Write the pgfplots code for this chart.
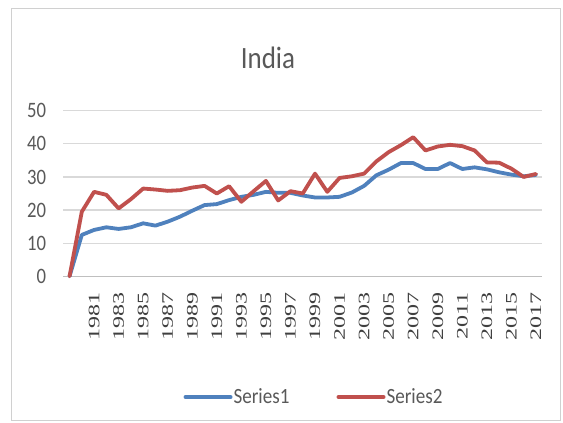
\documentclass[border=0pt]{standalone}
\usepackage{pgfplots}
\pgfplotsset{compat=1.18}
\usepackage{fontspec}
\setmainfont{Carlito}
\newfontfamily\titlefont[FakeStretch=0.87]{Carlito}
\newfontfamily\ytickfont[FakeStretch=0.85]{Carlito}
\newfontfamily\legfont[FakeStretch=0.88]{Carlito}
\newfontfamily\xtickfont[FakeStretch=1.5]{Liberation Serif}
\definecolor{txtgray}{HTML}{595959}
\definecolor{xtxtgray}{HTML}{404040}
\definecolor{gridgray}{HTML}{D9D9D9}
\definecolor{framegray}{HTML}{D0D0D0}
\definecolor{axisgray}{HTML}{BFBFBF}
\definecolor{serA}{HTML}{4F81BD}
\definecolor{serB}{HTML}{C0504D}

\begin{document}
\begin{tikzpicture}[x=1pt,y=1pt]
\useasboundingbox (0,0) rectangle (563,-423);
\fill[white] (0,0) rectangle (563,-423);
\draw[framegray, line width=1pt] (11,-8) rectangle (560,-420.5);
\node[txtgray, font=\titlefont\fontsize{31}{33}\selectfont] at (268,-58) {India};
\begin{axis}[
  at={(63.4pt,-276.3pt)}, anchor=south west,
  scale only axis, width=478.7pt, height=165.6pt,
  xmin=1978.5, xmax=2017.5, ymin=0, ymax=50,
  xtick={1981,1983,...,2017}, ytick={0,10,...,50},
  /pgf/number format/.cd, 1000 sep={}, assume math mode=true, /pgfplots/.cd,
  axis x line*=bottom, axis y line*=left,
  x axis line style={draw=axisgray, line width=1pt, -},
  y axis line style={draw=none},
  major tick length=0pt,
  ymajorgrids, grid style={gridgray, line width=1.2pt},
  xticklabel style={rotate=90, anchor=east, inner sep=0pt, text=xtxtgray,
    font=\xtickfont\fontsize{16}{18}\selectfont},
  yticklabel style={anchor=east, inner sep=0pt, text=txtgray,
    font=\ytickfont\fontsize{22}{24}\selectfont},
  xticklabel shift=15.5pt, yticklabel shift=17pt,
  clip=false,
  legend columns=2,
  legend style={at={(0.5225,-0.729)}, anchor=center, draw=none, fill=none,
    font=\legfont\fontsize{21.7}{23}\selectfont, text=txtgray,
    nodes={inner sep=1pt},
    /tikz/every even column/.append style={column sep=46pt}},
  legend image code/.code={\draw[#1, line width=4pt, line cap=round] (0pt,0pt) -- (45pt,0pt);},
  every axis plot/.append style={line width=3.8pt, line join=round, line cap=round, mark=none},
]
\addplot[serA] coordinates {
(1979,0) (1980,12.5) (1981,14.0) (1982,14.8) (1983,14.3) (1984,14.8)
(1985,16.0) (1986,15.3) (1987,16.5) (1988,18.0) (1989,19.8) (1990,21.5)
(1991,21.8) (1992,23.0) (1993,24.0) (1994,24.6) (1995,25.5) (1996,25.2)
(1997,25.2) (1998,24.4) (1999,23.8) (2000,23.8) (2001,24.0) (2002,25.3)
(2003,27.3) (2004,30.5) (2005,32.2) (2006,34.2) (2007,34.2) (2008,32.4)
(2009,32.4) (2010,34.2) (2011,32.4) (2012,32.9) (2013,32.3) (2014,31.4)
(2015,30.7) (2016,30.2) (2017,30.6)
};
\addlegendentry{Series1}
\addplot[serB] coordinates {
(1979,0) (1980,19.5) (1981,25.5) (1982,24.6) (1983,20.5) (1984,23.3)
(1985,26.5) (1986,26.2) (1987,25.8) (1988,26.0) (1989,26.8) (1990,27.3)
(1991,25.0) (1992,27.2) (1993,22.5) (1994,25.7) (1995,28.8) (1996,22.9)
(1997,25.7) (1998,25.0) (1999,31.0) (2000,25.5) (2001,29.7) (2002,30.2)
(2003,31.0) (2004,34.7) (2005,37.5) (2006,39.6) (2007,42.0) (2008,38.0)
(2009,39.2) (2010,39.7) (2011,39.3) (2012,38.0) (2013,34.4) (2014,34.3)
(2015,32.5) (2016,30.0) (2017,30.9)
};
\addlegendentry{Series2}
\end{axis}
\end{tikzpicture}
\end{document}
